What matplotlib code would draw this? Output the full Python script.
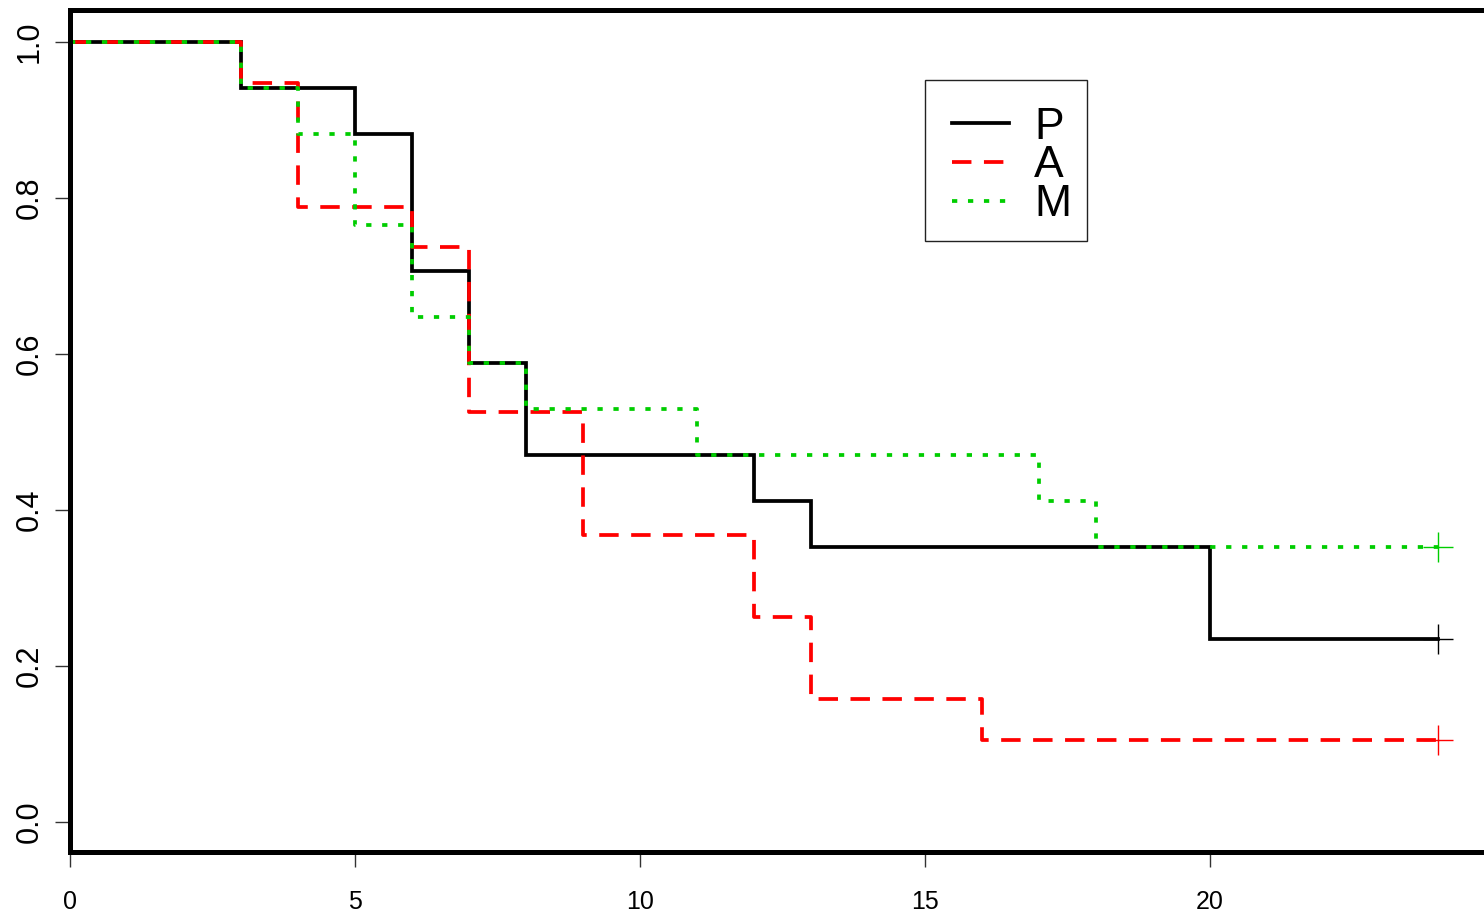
import matplotlib
matplotlib.use("Agg")
import matplotlib.pyplot as plt
from matplotlib.lines import Line2D
from matplotlib.patches import Rectangle

plt.rcParams['font.family'] = ['Liberation Sans', 'DejaVu Sans']
plt.rcParams['lines.scale_dashes'] = False

# Data (Kaplan-Meier style step curves)
time_P = [0, 3, 5, 6, 7, 8, 12, 13, 20, 24]
surv_P = [1.0, 0.941, 0.882, 0.706, 0.588, 0.471, 0.412, 0.353, 0.235, 0.235]

time_A = [0, 3, 4, 6, 7, 9, 12, 13, 16, 24]
surv_A = [1.0, 0.947, 0.789, 0.737, 0.526, 0.368, 0.263, 0.158, 0.105, 0.105]

time_M = [0, 3, 4, 5, 6, 7, 8, 11, 17, 18, 24]
surv_M = [1.0, 0.941, 0.882, 0.765, 0.647, 0.588, 0.529, 0.471, 0.412, 0.353, 0.353]

labels = ["P", "A", "M"]
colors = ["black", "#FF0000", "#00CD00"]
x_ticks = [0, 5, 10, 15, 20]
y_ticks = [0.0, 0.2, 0.4, 0.6, 0.8, 1.0]
y_ticklabels = ["0.0", "0.2", "0.4", "0.6", "0.8", "1.0"]

W, H = 1484, 913
fig = plt.figure(figsize=(W / 100, H / 100), dpi=100)
left_px, right_px, top_px, bot_px = 70, 1490, 10, 852
ax = fig.add_axes([left_px / W, (H - bot_px) / H, (right_px - left_px) / W, (bot_px - top_px) / H])

lw = 2.7
styles = [
    dict(linestyle='-'),
    dict(linestyle=(0, (14, 9))),
    dict(linestyle=(0, (3.8, 7.7))),
]
series = [(time_P, surv_P), (time_A, surv_A), (time_M, surv_M)]
for (t, s), c, st in zip(series, colors, styles):
    ax.step(t, s, where='post', color=c, lw=lw, solid_joinstyle='miter', **st)
for (t, s), c in zip(series, colors):
    ax.plot([t[-1]], [s[-1]], marker='+', markersize=22, markeredgewidth=1.0,
            color=c, linestyle='none')

ax.set_xlim(0, (right_px - left_px) / 57.0)
ax.set_ylim(-0.0385, 1.041)

ax.set_xticks(x_ticks)
ax.set_xticklabels([str(v) for v in x_ticks])
ax.set_yticks(y_ticks)
ax.set_yticklabels(y_ticklabels, rotation=90, va='center')
ax.tick_params(axis='both', length=11, width=1.0, color='#333333')
ax.tick_params(axis='x', pad=16, labelsize=18)
ax.tick_params(axis='y', pad=7, labelsize=22)
for sp in ax.spines.values():
    sp.set_linewidth(3.6)
    sp.set_color('black')

handles = [Line2D([], [], color=c, lw=lw, **st) for c, st in zip(colors, styles)]
# legend anchored at upper-left corner of its frame
lx = (925 - left_px) / (right_px - left_px)
ly = (bot_px - 80) / (bot_px - top_px)
leg = ax.legend(handles, labels, loc='upper left', bbox_to_anchor=(lx, ly),
                bbox_transform=ax.transAxes, borderaxespad=0,
                fontsize=32, frameon=False, handlelength=1.3, handletextpad=0.55,
                borderpad=0.6, labelspacing=-0.05)
# legend frame box
fx0, fy0, fx1, fy1 = 925, 80, 1087, 241
frame = Rectangle((fx0 / W, 1 - fy1 / H), (fx1 - fx0) / W, (fy1 - fy0) / H,
                  transform=fig.transFigure, facecolor='white', edgecolor='#222222',
                  linewidth=1.0, zorder=4)
ax.add_artist(frame)
leg.set_zorder(5)

fig.savefig("out.png", dpi=100)
